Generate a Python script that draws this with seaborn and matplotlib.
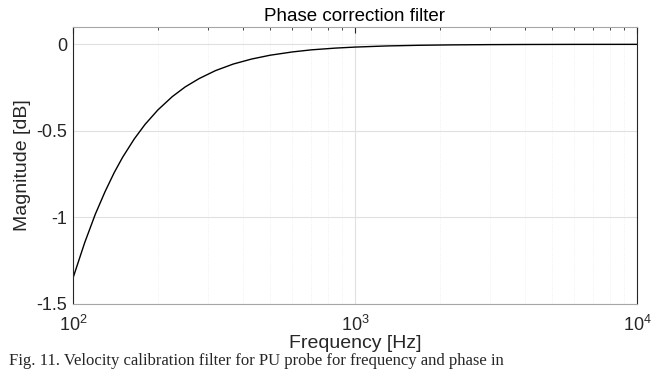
import numpy as np
import pandas as pd
import matplotlib
matplotlib.use("Agg")
import matplotlib.pyplot as plt
import seaborn as sns
from matplotlib.ticker import LogLocator, NullFormatter

# values
freq_hz = [100, 110, 120, 130, 140, 150, 165, 180, 200, 225, 250, 280, 320,
           370, 430, 500, 600, 700, 850, 1000, 1300, 1700, 2200, 3000, 4000,
           6000, 10000]
mag_db = [-1.350, -1.146, -0.981, -0.850, -0.741, -0.652, -0.546, -0.463,
          -0.379, -0.302, -0.246, -0.198, -0.152, -0.114, -0.085, -0.063,
          -0.044, -0.032, -0.022, -0.016, -0.0094, -0.0055, -0.0033, -0.0018,
          -0.0010, -0.0004, -0.0002]
y_ticks = [-1.5, -1, -0.5, 0]
y_tick_labels = ["-1.5", "-1", "-0.5", "0"]

df = pd.DataFrame({"Frequency": freq_hz, "Magnitude": mag_db})

sns.set_style("white")
plt.rcParams["font.family"] = ["Liberation Sans", "DejaVu Sans"]
plt.rcParams["mathtext.fontset"] = "custom"
plt.rcParams["mathtext.rm"] = "Liberation Sans"

fig = plt.figure(figsize=(6.72, 3.71), dpi=100)
ax = fig.add_axes([73 / 672, 1 - 304 / 371, (637 - 73) / 672, (304 - 27) / 371])

sns.lineplot(data=df, x="Frequency", y="Magnitude", color="black", lw=1.0, ax=ax)
ax.set_xscale("log")
ax.set_xlim(100, 10000)
ax.set_ylim(-1.5, 0.1)
ax.set_yticks(y_ticks)
ax.set_yticklabels(y_tick_labels)
ax.xaxis.set_minor_locator(LogLocator(base=10, subs=np.arange(2, 10)))
ax.xaxis.set_minor_formatter(NullFormatter())

ax.grid(True, which="major", color="#e0e0e0", lw=0.8)
ax.grid(True, which="minor", axis="x", color="#ededed", lw=0.6, ls=":")
ax.set_axisbelow(True)

for side in ["left", "right"]:
    ax.spines[side].set_color("#262626")
for side in ["top", "bottom"]:
    ax.spines[side].set_color("#a6a6a6")
for s in ax.spines.values():
    s.set_linewidth(0.8)

ax.tick_params(which="both", direction="in", top=True, right=False,
               colors="#262626", labelsize=13)
ax.tick_params(axis="x", pad=8)
ax.tick_params(axis="y", pad=4)
ax.tick_params(which="major", length=4)
ax.tick_params(which="minor", length=2.5)

ax.set_xlabel("Frequency [Hz]", fontsize=14, color="#262626", labelpad=0)
ax.set_ylabel("Magnitude [dB]", fontsize=14, color="#262626", labelpad=4)
ax.set_title("Phase correction filter", fontsize=13.5, color="black", pad=4)

fig.text(0.013, 1 - 369 / 371, "Fig. 11. Velocity calibration filter for PU probe for frequency and phase in",
         fontsize=12, family="Liberation Serif", va="bottom", ha="left")

fig.savefig("out.png", dpi=100)
